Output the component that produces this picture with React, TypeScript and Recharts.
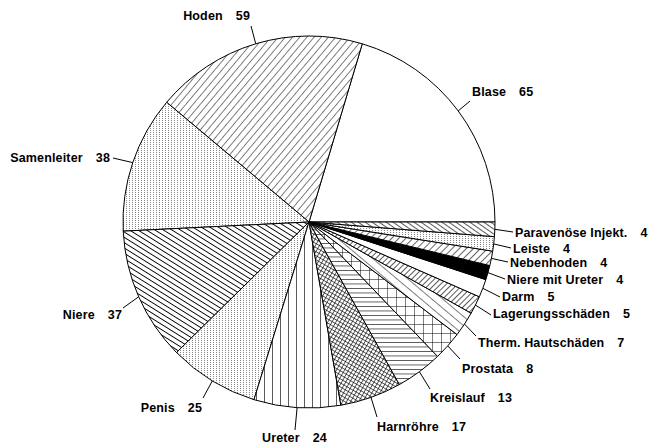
import { PieChart, Pie, Cell } from 'recharts';

const NAMES = [
  'Blase', 'Hoden', 'Samenleiter', 'Niere', 'Penis', 'Ureter', 'Harnröhre', 'Kreislauf',
  'Prostata', 'Therm. Hautschäden', 'Lagerungsschäden', 'Darm', 'Niere mit Ureter',
  'Nebenhoden', 'Leiste', 'Paravenöse Injekt.',
];
const COUNTS = [65, 59, 38, 37, 25, 24, 17, 13, 8, 7, 5, 5, 4, 4, 4, 4];

const data = NAMES.map((name, i) => ({ name, value: COUNTS[i] }));

// fill per slice (pattern ids defined below)
const FILLS = [
  '#fff', 'url(#p-slash)', 'url(#p-dots)', 'url(#p-back-thick)', 'url(#p-dots)', 'url(#p-vert)',
  'url(#p-cross)', 'url(#p-horiz)', 'url(#p-grid)', 'url(#p-back-sparse)', 'url(#p-slash-dense)',
  '#fff', '#000', 'url(#p-slash-mid)', 'url(#p-dots)', 'url(#p-back)',
];

// label text pos + leader end, relative to pie centre: [tx, ty, lx, ly, anchor]
const LABEL_SPOTS: [number, number, number, number, string][] = [
  [163, -130, 161, -121, 'start'],
  [-59, -206, -58, -196, 'end'],
  [-199, -64, -196, -64, 'end'],
  [-187, 93, -186, 86, 'end'],
  [-107, 186, -106, 176, 'end'],
  [-47, 216, -14, 208, 'start'],
  [68, 205, 68, 195, 'start'],
  [121, 176, 121, 167, 'start'],
  [153, 147, 151, 137, 'start'],
  [169, 121, 167, 114, 'start'],
  [184, 92, 182, 93, 'start'],
  [193, 75, 191, 75, 'start'],
  [198, 58, 196, 57, 'start'],
  [201, 41, 199, 40, 'start'],
  [204, 27, 202, 26, 'start'],
  [206, 11, 204, 10, 'start'],
];

const RAD = Math.PI / 180;

function renderLabel(props: any) {
  const { cx, cy, midAngle, outerRadius, index, name, value } = props;
  const [tx, ty, lx, ly, anchor] = LABEL_SPOTS[index];
  const sx = cx + outerRadius * Math.cos(-midAngle * RAD);
  const sy = cy + outerRadius * Math.sin(-midAngle * RAD);
  return (
    <g key={`lbl-${index}`}>
      <line x1={sx} y1={sy} x2={cx + lx} y2={cy + ly} stroke="#000" strokeWidth={1} />
      <text
        x={cx + tx}
        y={cy + ty}
        textAnchor={anchor}
        dominantBaseline="central"
        fontFamily="'Liberation Sans', Arial, sans-serif"
        fontWeight="bold"
        fontSize={12.5}
        letterSpacing={0.15}
        fill="#000"
      >
        {name}
        <tspan dx={13}>{value}</tspan>
      </text>
    </g>
  );
}

function Patterns() {
  return (
    <svg width={0} height={0} style={{ position: 'absolute' }}>
      <defs>
        <pattern id="p-slash" width={5.5} height={10} patternUnits="userSpaceOnUse" patternTransform="rotate(40)">
          <rect width={5.5} height={10} fill="#fff" />
          <line x1={0} y1={0} x2={0} y2={10} stroke="#000" strokeWidth={1} />
        </pattern>
        <pattern id="p-slash-dense" width={4} height={10} patternUnits="userSpaceOnUse" patternTransform="rotate(45)">
          <rect width={4} height={10} fill="#fff" />
          <line x1={0} y1={0} x2={0} y2={10} stroke="#000" strokeWidth={1.3} />
        </pattern>
        <pattern id="p-slash-mid" width={5} height={10} patternUnits="userSpaceOnUse" patternTransform="rotate(45)">
          <rect width={5} height={10} fill="#fff" />
          <line x1={0} y1={0} x2={0} y2={10} stroke="#000" strokeWidth={1.2} />
        </pattern>
        <pattern id="p-back-thick" width={10} height={4.5} patternUnits="userSpaceOnUse" patternTransform="rotate(32)">
          <rect width={10} height={4.5} fill="#fff" />
          <line x1={0} y1={0} x2={10} y2={0} stroke="#000" strokeWidth={1.8} />
        </pattern>
        <pattern id="p-back" width={10} height={4} patternUnits="userSpaceOnUse" patternTransform="rotate(35)">
          <rect width={10} height={4} fill="#fff" />
          <line x1={0} y1={0} x2={10} y2={0} stroke="#000" strokeWidth={1.3} />
        </pattern>
        <pattern id="p-back-sparse" width={10} height={7} patternUnits="userSpaceOnUse" patternTransform="rotate(40)">
          <rect width={10} height={7} fill="#fff" />
          <line x1={0} y1={0} x2={10} y2={0} stroke="#000" strokeWidth={1} />
        </pattern>
        <pattern id="p-dots" width={3} height={2} patternUnits="userSpaceOnUse">
          <rect width={3} height={2} fill="#fff" />
          <rect width={1} height={1} fill="#888" />
        </pattern>
        <pattern id="p-vert" width={8} height={8} patternUnits="userSpaceOnUse">
          <rect width={8} height={8} fill="#fff" />
          <line x1={0} y1={0} x2={0} y2={8} stroke="#000" strokeWidth={1.3} />
        </pattern>
        <pattern id="p-horiz" width={8} height={4.5} patternUnits="userSpaceOnUse">
          <rect width={8} height={4.5} fill="#fff" />
          <line x1={0} y1={0} x2={8} y2={0} stroke="#000" strokeWidth={1.2} />
        </pattern>
        <pattern id="p-grid" width={9} height={9} patternUnits="userSpaceOnUse">
          <rect width={9} height={9} fill="#fff" />
          <line x1={0} y1={0} x2={9} y2={0} stroke="#000" strokeWidth={1} />
          <line x1={0} y1={0} x2={0} y2={9} stroke="#000" strokeWidth={1} />
        </pattern>
        <pattern id="p-cross" width={3.5} height={3.5} patternUnits="userSpaceOnUse" patternTransform="rotate(30)">
          <rect width={3.5} height={3.5} fill="#fff" />
          <line x1={0} y1={0} x2={3.5} y2={0} stroke="#000" strokeWidth={1.2} />
          <line x1={0} y1={0} x2={0} y2={3.5} stroke="#000" strokeWidth={1.2} />
        </pattern>
      </defs>
    </svg>
  );
}

export default function App() {
  return (
    <div style={{ width: 650, height: 447, background: '#fff', position: 'relative' }}>
      <style>{'body { margin: 0; }'}</style>
      <Patterns />
      <PieChart width={650} height={447} margin={{ top: 0, right: 0, bottom: 0, left: 0 }}>
        <Pie
          data={data}
          dataKey="value"
          nameKey="name"
          cx={309}
          cy={222}
          outerRadius={186}
          startAngle={0}
          endAngle={360}
          stroke="#000"
          strokeWidth={1}
          labelLine={false}
          label={renderLabel}
          isAnimationActive={false}
        >
          {data.map((entry, index) => (
            <Cell key={`cell-${index}`} fill={FILLS[index]} />
          ))}
        </Pie>
      </PieChart>
    </div>
  );
}
